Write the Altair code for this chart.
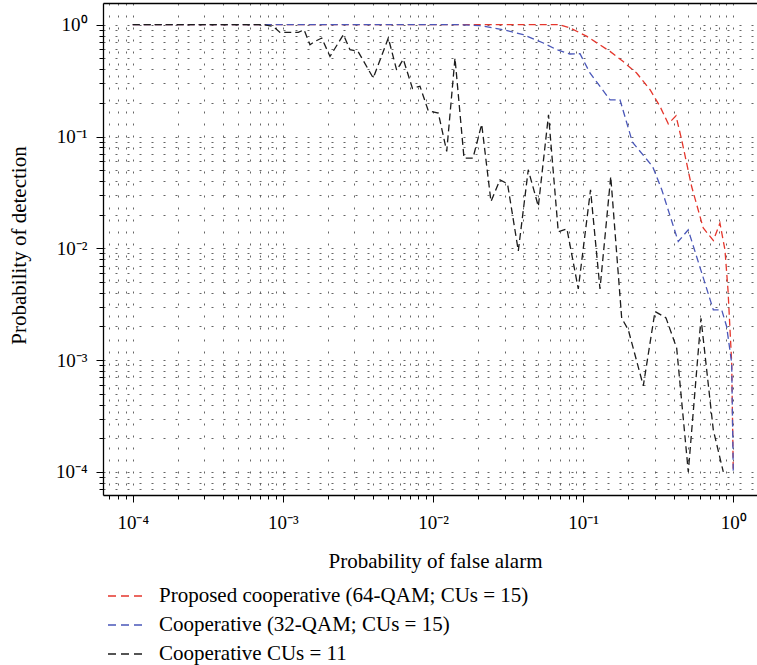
import math
import altair as alt
import pandas as pd

# ---------------- data ----------------
series_names = [
    "Proposed cooperative (64-QAM; CUs = 15)",
    "Cooperative (32-QAM; CUs = 15)",
    "Cooperative CUs = 11",
]
series_colors = ["#e5362c", "#4a57b9", "#1c1c1c"]

red_x = [1e-4, 0.070, 0.082, 0.106, 0.151, 0.184, 0.227, 0.279, 0.325, 0.369,
         0.4155, 0.453, 0.528, 0.631, 0.736, 0.815, 0.880, 0.922, 0.976, 1.0]
red_y = [1.0, 1.0, 0.934, 0.786, 0.577, 0.47, 0.37, 0.262, 0.186, 0.130,
         0.153, 0.0935, 0.0357, 0.0152, 0.01175, 0.0168, 0.0097, 0.00425, 0.00095, 0.0001]

blue_x = [1e-4, 0.015, 0.0206, 0.0294, 0.0399, 0.0543, 0.0667, 0.0817, 0.0953, 0.111,
          0.151, 0.176, 0.213, 0.290, 0.334, 0.430, 0.501, 0.736, 0.837, 0.903,
          0.976, 1.0]
blue_y = [1.0, 1.0, 0.98, 0.902, 0.814, 0.686, 0.597, 0.547, 0.55, 0.37,
          0.213, 0.213, 0.0889, 0.054, 0.0334, 0.0115, 0.01465, 0.00282, 0.00282, 0.002,
          0.00094, 0.0001]

black_x = [1e-4, 7.5e-4, 8.63e-4, 9.57e-4, 1.267e-3, 1.384e-3, 1.516e-3, 1.637e-3, 1.815e-3, 2.06e-3,
           2.53e-3, 2.80e-3, 3.165e-3, 4.0e-3, 5.04e-3, 5.73e-3, 6.34e-3, 7.30e-3, 8.19e-3, 9.30e-3,
           1.085e-2, 1.234e-2, 1.401e-2, 1.609e-2, 1.846e-2, 2.11e-2, 2.433e-2, 2.794e-2, 3.135e-2, 3.70e-2,
           4.31e-2, 5.03e-2, 5.88e-2, 6.83e-2, 7.80e-2, 9.28e-2, 0.112, 0.1295, 0.1527, 0.1806,
           0.1999, 0.2516, 0.3010, 0.3562, 0.4198, 0.5016, 0.6094, 0.736, 0.858]
black_y = [1.0, 1.0, 0.966, 0.853, 0.853, 0.902, 0.662, 0.709, 0.760, 0.520,
           0.814, 0.597, 0.577, 0.3335, 0.760, 0.392, 0.491, 0.2686, 0.2815, 0.170,
           0.162, 0.0735, 0.504, 0.0641, 0.0641, 0.1288, 0.0262, 0.041, 0.0378, 0.0095,
           0.0504, 0.0237, 0.1566, 0.01405, 0.01494, 0.00434, 0.0334, 0.00434, 0.0439, 0.002374,
           0.001866, 0.000589, 0.00272, 0.00239, 0.00128, 0.0001, 0.00237, 0.000238, 0.0001]

major_exponents = [-4, -3, -2, -1, 0]
major_labels = ["10\u207b\u2074", "10\u207b\u00b3", "10\u207b\u00b2", "10\u207b\u00b9", "10\u2070"]

x_title = "Probability of false alarm"
y_title = "Probability of detection"

# ---------------- build table (drawing order: red, blue, black) ----------------
rows = []
for name, xs, ys in [(series_names[0], red_x, red_y),
                     (series_names[1], blue_x, blue_y),
                     (series_names[2], black_x, black_y)]:
    for i, (a, b) in enumerate(zip(xs, ys)):
        rows.append({"series": name, "x": a, "y": b, "i": i})
df = pd.DataFrame(rows)

x_domain = [10 ** -4.198, 10 ** 0.158]
y_domain = [10 ** -4.206, 10 ** 0.194]

def log_ticks(lo, hi):
    vals = []
    for e in range(-6, 2):
        for k in range(1, 10):
            v = k * 10.0 ** e
            if lo <= v <= hi:
                vals.append(v)
    return vals

x_ticks = log_ticks(*x_domain)
y_ticks = log_ticks(*y_domain)

lg = "(log(datum.value)/LN10)"
major_test = f"abs({lg} - round({lg})) < 0.001"
label_expr = "''"
for e, lab in zip(major_exponents, major_labels):
    label_expr = f"abs({lg} - ({e})) < 0.001 ? '{lab}' : " + label_expr

FONT = "Liberation Serif"

def make_axis(title, orient, title_x, title_y, angle, values, label_padding, label_baseline):
    return alt.Axis(
        title=title,
        orient=orient,
        values=values,
        grid=True,
        gridColor="#555555",
        gridDash=[2, 10],
        gridOpacity=0.9,
        gridWidth=1,
        domainColor="#000000",
        domainWidth=1.3,
        tickColor="#000000",
        tickWidth=1,
        tickSize={"condition": {"test": major_test, "value": 7}, "value": 4},
        labelExpr=label_expr,
        labelOverlap=False,
        labelFlush=False,
        labelFont=FONT,
        labelFontSize=19,
        labelColor="#000000",
        labelPadding=label_padding,
        labelBaseline=label_baseline,
        titleFont=FONT,
        titleFontSize=21,
        titleFontWeight="normal",
        titleColor="#000000",
        titleX=title_x,
        titleY=title_y,
        titleAngle=angle,
        titleAlign="center",
        titleBaseline="middle",
    )

xaxis = make_axis(x_title, "bottom", 332, 66, 0, x_ticks, 20, "middle")
yaxis = make_axis(y_title, "left", -84, 242, 270, y_ticks, 9, "middle")

xscale = alt.Scale(type="log", domain=x_domain, nice=False)
yscale = alt.Scale(type="log", domain=y_domain, nice=False)

lines = alt.Chart(df).mark_line(strokeWidth=1.3, strokeDash=[7, 4]).encode(
    x=alt.X("x:Q", scale=xscale, axis=xaxis),
    y=alt.Y("y:Q", scale=yscale, axis=yaxis),
    color=alt.Color(
        "series:N",
        scale=alt.Scale(domain=series_names, range=series_colors),
        legend=alt.Legend(
            orient="none",
            legendX=4,
            legendY=574,
            direction="vertical",
            title=None,
            symbolType="stroke",
            symbolStrokeWidth=1.3,
            symbolDash=[8, 5],
            symbolSize=1296,
            labelFont=FONT,
            labelFontSize=21,
            labelColor="#000000",
            labelOffset=14,
            labelLimit=600,
            rowPadding=-2.5,
            padding=0,
        ),
    ),
    order=alt.Order("i:Q"),
)

top_frame = alt.Chart(df).mark_point(opacity=0).encode(
    x=alt.X("x:Q", scale=xscale,
            axis=alt.Axis(orient="top", labels=False, ticks=False, grid=False,
                          title=None, domainColor="#000000", domainWidth=1.3)),
)

chart = alt.layer(lines, top_frame).properties(
    width=654,
    height=492,
    autosize=alt.AutoSizeParams(type="none"),
    padding={"left": 103, "top": 3, "right": 0, "bottom": 170},
).configure_view(stroke=None).configure(background="white")

chart.save("out.html", embed_options={"renderer": "svg", "actions": False})
